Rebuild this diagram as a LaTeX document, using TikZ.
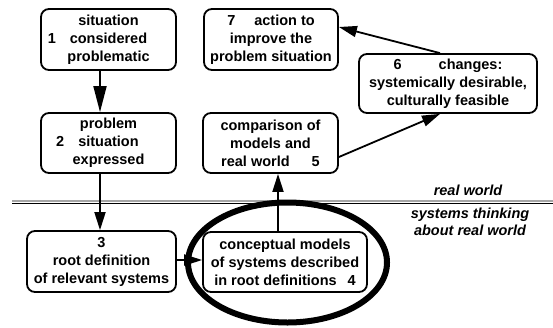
\documentclass[tikz,border=0pt]{standalone}
\usepackage{fontspec}
\setmainfont{Liberation Sans}
\usetikzlibrary{arrows.meta}
\begin{document}
\begin{tikzpicture}[x=1pt,y=-1pt,
  box/.style={draw,line width=1.8pt,rounded corners=8pt,fill=white,inner sep=0pt,
    align=center,font=\fontsize{14.5}{18}\selectfont\bfseries},
  arr/.style={line width=1.8pt,-{Triangle[length=18pt,width=11pt]}},
  bigarr/.style={line width=1.8pt,-{Triangle[length=26pt,width=13pt]}},
  zone/.style={align=center,font=\fontsize{14.5}{17}\selectfont\bfseries\itshape}]
\useasboundingbox (0,0) rectangle (553,327);
\fill[white] (0,0) rectangle (553,327);

% boundary between the real world and systems thinking
\draw[gray!70,line width=1.6pt] (12,200.8) -- (553,200.8);
\draw[black,line width=1.1pt] (12,203.4) -- (553,203.4);

\node[zone] (rw) at (468,190) {real world};
\node[zone] (st) at (470,222) {systems thinking\\about real world};

% the seven stages
\node[box,minimum width=135pt,minimum height=61pt] (b1) at (108.5,39.5)
  {situation\\\llap{1\hspace{14pt}}considered\\problematic};
\node[box,minimum width=135pt,minimum height=60pt] (b2) at (108.5,143)
  {problem\\\llap{2\hspace{14pt}}situation\\expressed};
\node[box,minimum width=149pt,minimum height=61pt] (b3) at (101.5,261.5)
  {3\\root definition\\of relevant systems};
\node[box,minimum width=164pt,minimum height=60pt] (b4) at (285,262)
  {conceptual models\\of systems described\\in root definitions\hspace{11pt}4};
\node[box,minimum width=135pt,minimum height=60pt] (b5) at (270.5,143)
  {comparison of\\models and\\real world\hspace{22pt}5};
\node[box,minimum width=178pt,minimum height=59pt] (b6) at (448,83.5)
  {6\hspace{37pt}changes:\\systemically desirable,\\culturally feasible};
\node[box,minimum width=134pt,minimum height=61pt] (b7) at (271,39.5)
  {7\hspace{19pt}action to\\improve the\\problem situation};

% connectors
\draw[bigarr] ([xshift=-8.5pt]b1.south) -- ([xshift=-8.5pt]b2.north);
\draw[arr] ([xshift=-8.5pt]b2.south) -- ([xshift=-1.5pt]b3.north);
\draw[arr] ([yshift=1.5pt]b3.east) -- ([yshift=2pt]b4.west);
\draw[arr] ([xshift=-7pt]b4.north) -- ([xshift=7.5pt]b5.south);
\draw[arr] ([yshift=-14pt]b5.east) -- ([xshift=-8pt]b6.south);
\draw[arr] ([xshift=-8pt]b6.north) -- ([yshift=12.5pt]b7.east);

% emphasis ring round stage 4
\draw[line width=6pt] (287.5,262.5) ellipse [x radius=99.5pt, y radius=60pt];
\end{tikzpicture}
\end{document}
